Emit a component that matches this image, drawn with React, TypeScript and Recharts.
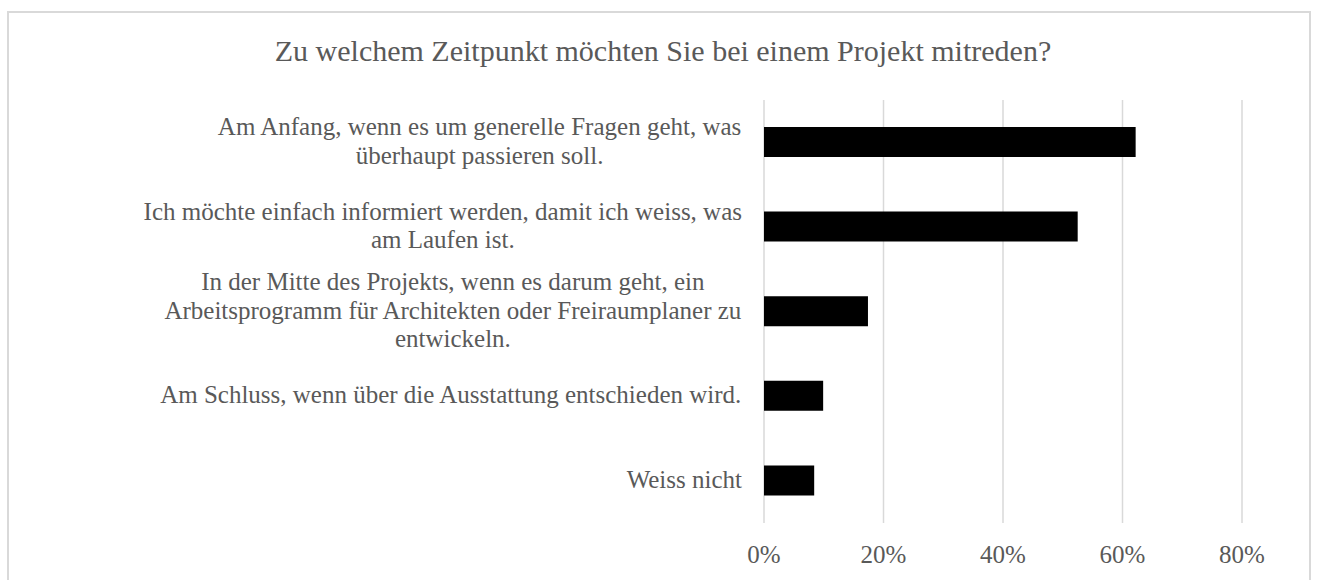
import React from "react"
import { BarChart, Bar, XAxis, YAxis, CartesianGrid } from "recharts"

const title = "Zu welchem Zeitpunkt möchten Sie bei einem Projekt mitreden?"

const categories = [
  "Am Anfang, wenn es um generelle Fragen geht, was\nüberhaupt passieren soll.",
  "Ich möchte einfach informiert werden, damit ich weiss, was\nam Laufen ist.",
  "In der Mitte des Projekts, wenn es darum geht, ein\nArbeitsprogramm für Architekten oder Freiraumplaner zu\nentwickeln.",
  "Am Schluss, wenn über die Ausstattung entschieden wird.",
  "Weiss nicht",
]

const shares = [0.622, 0.525, 0.174, 0.099, 0.084]

const xTicks = [0, 0.2, 0.4, 0.6, 0.8]

const data = categories.map((name, i) => ({ name, value: shares[i] }))

const FONT = "'Liberation Serif', 'Times New Roman', serif"
const TEXT = "#595959"
const GRID = "#d9d9d9"
const LINE_H = 28.5

let ctx: CanvasRenderingContext2D | null = null
function measure(s: string) {
  if (!ctx) {
    ctx = document.createElement("canvas").getContext("2d")
    if (ctx) ctx.font = `25px ${FONT}`
  }
  return ctx ? ctx.measureText(s).width : s.length * 11
}

function CategoryTick(props: any) {
  const { x, y, payload } = props
  const lines: string[] = String(payload.value).split("\n")
  const blockW = Math.max(...lines.map(measure))
  const cx = x - blockW / 2
  return (
    <g>
      {lines.map((line, i) => (
        <text
          key={i}
          x={cx}
          y={y + (i - (lines.length - 1) / 2) * LINE_H + 7}
          textAnchor="middle"
          fill={TEXT}
          fontSize={25}
          fontFamily={FONT}
        >
          {line}
        </text>
      ))}
    </g>
  )
}

function PercentTick(props: any) {
  const { x, y, payload } = props
  return (
    <text x={x} y={y + 39.5} textAnchor="middle" fill={TEXT} fontSize={25} fontFamily={FONT}>
      {Math.round(payload.value * 100)}%
    </text>
  )
}

export default function App() {
  return (
    <div
      style={{
        position: "absolute",
        left: 7,
        top: 11,
        width: 1304,
        height: 569,
        boxSizing: "border-box",
        borderTop: `2px solid ${GRID}`,
        borderLeft: `2px solid ${GRID}`,
        borderRight: `2px solid ${GRID}`,
        background: "#fff",
      }}
    >
      <div
        style={{
          position: "absolute",
          top: 23,
          left: 4,
          width: "100%",
          textAlign: "center",
          fontFamily: FONT,
          fontSize: 30,
          lineHeight: "30px",
          color: TEXT,
        }}
      >
        {title}
      </div>
      <BarChart
        width={1300}
        height={567}
        data={data}
        layout="vertical"
        margin={{ top: 87, right: 67, left: 0, bottom: 17 }}
      >
        <CartesianGrid horizontal={false} stroke={GRID} strokeWidth={1.5} />
        <XAxis
          type="number"
          domain={[0, 0.8]}
          ticks={xTicks}
          axisLine={false}
          tickLine={false}
          tickSize={0}
          tickMargin={0}
          height={40}
          tick={<PercentTick />}
        />
        <YAxis
          type="category"
          dataKey="name"
          width={755}
          interval={0}
          axisLine={false}
          tickLine={false}
          tickSize={0}
          tickMargin={22}
          tick={<CategoryTick />}
        />
        <Bar dataKey="value" fill="#000000" barSize={30} isAnimationActive={false} />
      </BarChart>
    </div>
  )
}
